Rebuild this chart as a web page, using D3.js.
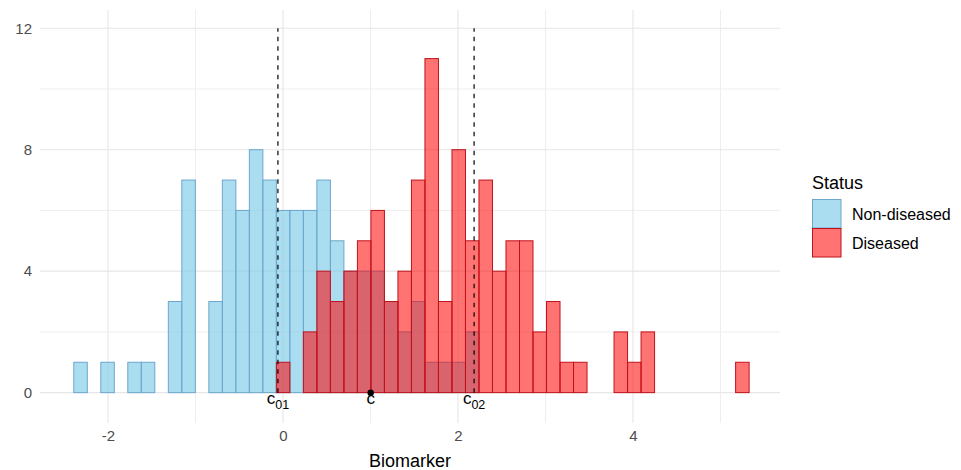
<!DOCTYPE html>
<html>
<head>
<meta charset="utf-8">
<script src="https://cdn.jsdelivr.net/npm/d3@7"></script>
<style>
  html, body { margin: 0; padding: 0; background: #ffffff; }
  svg { display: block; font-family: Arial, "Liberation Sans", sans-serif; }
</style>
</head>
<body>
<svg id="chart" width="961" height="470"></svg>
<script>
// Histogram bins: shared start and width over the biomarker range
const binStart = -2.391;
const binWidth = 0.15436;

// Counts per bin (50 bins) for each status group
const nonDiseased = [1,0,1,0,1,1,0,3,7,0, 3,7,6,8,7,6,6,6,7,5, 4,4,4,3,2,3,1,1,1,2,
                     0,0,0,0,0,0,0,0,0,0, 0,0,0,0,0,0,0,0,0,0];
const diseased    = [0,0,0,0,0,0,0,0,0,0, 0,0,0,0,0,1,0,2,4,3, 4,5,6,3,4,7,11,3,8,5,
                     7,4,5,5,2,3,1,1,0,0, 2,1,2,0,0,0,0,0,0,1];

const statusNames = ["Non-diseased", "Diseased"];

// Cut-off values and the central point on the biomarker axis
const cutoffs = [
  { name: "c", sub: "01", value: -0.058 },
  { name: "c", sub: "02", value: 2.184 }
];
const centre = { name: "c", value: 1.002 };
const cutoffTop = 12;
const labelLevel = -0.36;

const xTicks = [-2, 0, 2, 4];
const xMinor = [-1, 1, 3, 5];
const yTicks = [0, 4, 8, 12];
const yMinor = [2, 6, 10];

// Styling
const fills   = ["rgba(135,206,235,0.7)", "rgba(255,0,0,0.55)"];
const strokes = ["#6CA6CD", "#C0121B"];

const svg = d3.select("#chart");
const panel = { left: 40, right: 780, top: 10, bottom: 423 };

const x = d3.scaleLinear().domain([-2.777, 5.68]).range([panel.left, panel.right]);
const y = d3.scaleLinear().domain([-1.0, 12.6]).range([panel.bottom, panel.top]);

svg.append("rect").attr("width", 961).attr("height", 470).attr("fill", "#ffffff");

// Grid
const grid = svg.append("g");
grid.selectAll("line.hmin").data(yMinor).join("line")
  .attr("x1", panel.left).attr("x2", panel.right)
  .attr("y1", d => y(d)).attr("y2", d => y(d))
  .attr("stroke", "#EEEEEE").attr("stroke-width", 1);
grid.selectAll("line.vmin").data(xMinor).join("line")
  .attr("y1", panel.top).attr("y2", panel.bottom)
  .attr("x1", d => x(d)).attr("x2", d => x(d))
  .attr("stroke", "#EEEEEE").attr("stroke-width", 1);
grid.selectAll("line.hmaj").data(yTicks).join("line")
  .attr("x1", panel.left).attr("x2", panel.right)
  .attr("y1", d => y(d)).attr("y2", d => y(d))
  .attr("stroke", "#E6E6E6").attr("stroke-width", 1.1);
grid.selectAll("line.vmaj").data(xTicks).join("line")
  .attr("y1", panel.top).attr("y2", panel.bottom)
  .attr("x1", d => x(d)).attr("x2", d => x(d))
  .attr("stroke", "#E6E6E6").attr("stroke-width", 1.1);

// Histogram bars: non-diseased first, diseased drawn over it
[nonDiseased, diseased].forEach((counts, gi) => {
  svg.append("g").selectAll("rect").data(counts).join("rect")
    .attr("x", (d, i) => x(binStart + i * binWidth))
    .attr("width", (d, i) => x(binStart + (i + 1) * binWidth) - x(binStart + i * binWidth))
    .attr("y", d => y(d))
    .attr("height", d => y(0) - y(d))
    .attr("fill", fills[gi])
    .attr("stroke", strokes[gi])
    .attr("stroke-width", 1);
});

// Dashed cut-off lines
svg.append("g").selectAll("line").data(cutoffs).join("line")
  .attr("x1", d => x(d.value)).attr("x2", d => x(d.value))
  .attr("y1", y(0)).attr("y2", y(cutoffTop))
  .attr("stroke", "#000").attr("stroke-width", 1.2)
  .attr("stroke-dasharray", "4.5,5");

// Central point
svg.append("circle")
  .attr("cx", x(centre.value)).attr("cy", y(0)).attr("r", 3.2)
  .attr("fill", "#000");

// Labels under the baseline
const labs = svg.append("g").attr("font-size", 17).attr("fill", "#000");
cutoffs.forEach(d => {
  const t = labs.append("text")
    .attr("x", x(d.value)).attr("y", y(labelLevel))
    .attr("text-anchor", "middle");
  t.append("tspan").text(d.name);
  t.append("tspan").attr("font-size", 12.5).attr("dy", 5).text(d.sub);
});
labs.append("text")
  .attr("x", x(centre.value)).attr("y", y(labelLevel))
  .attr("text-anchor", "middle")
  .text(centre.name);

// Axes (labels only), plain hyphen for negatives
const fmt = d => String(d);
const yAxis = svg.append("g")
  .attr("transform", `translate(${panel.left},0)`)
  .call(d3.axisLeft(y).tickValues(yTicks).tickFormat(fmt).tickSize(0).tickPadding(8));
const xAxis = svg.append("g")
  .attr("transform", `translate(0,${panel.bottom})`)
  .call(d3.axisBottom(x).tickValues(xTicks).tickFormat(fmt).tickSize(0).tickPadding(7));
[yAxis, xAxis].forEach(a => {
  a.select(".domain").remove();
  a.selectAll("text").attr("font-size", 15).attr("fill", "#4D4D4D")
    .attr("font-family", "Arial, 'Liberation Sans', sans-serif");
});

svg.append("text")
  .attr("x", (panel.left + panel.right) / 2).attr("y", 466.5)
  .attr("text-anchor", "middle").attr("font-size", 18).attr("fill", "#000")
  .text("Biomarker");

// Legend
const legend = svg.append("g").attr("transform", "translate(812,0)");
legend.append("text").attr("x", 0).attr("y", 188.5)
  .attr("font-size", 18).attr("fill", "#000").text("Status");
statusNames.forEach((name, i) => {
  const top = 199.5 + i * 29;
  legend.append("rect")
    .attr("x", 0.5).attr("y", top).attr("width", 28.5).attr("height", 28.5)
    .attr("fill", fills[i]).attr("stroke", strokes[i]).attr("stroke-width", 1);
  legend.append("text")
    .attr("x", 40).attr("y", top + 14.5).attr("dy", "0.35em")
    .attr("font-size", 16).attr("fill", "#000").text(name);
});
</script>
</body>
</html>
